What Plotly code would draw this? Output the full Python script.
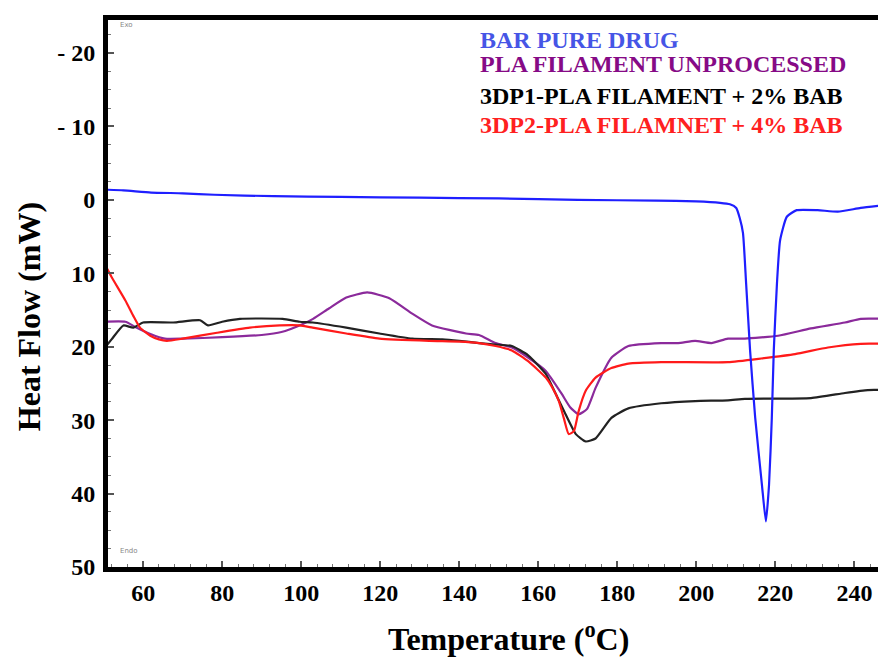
import plotly.graph_objects as go

# ---- data ----
bar_T = [50, 55, 62, 70, 78, 93, 110, 130, 150, 170, 190, 200, 206, 208.5, 210.1, 211, 211.8, 212.6,
         213.6, 214.9, 216.6, 217.6, 218.4, 219.1, 219.6, 220.4, 221.2, 222.9, 225.4, 230.7, 235.8,
         241.6, 248]
bar_hf = [-1.4, -1.3, -1.0, -0.9, -0.7, -0.5, -0.4, -0.3, -0.2, 0.0, 0.1, 0.2, 0.4, 0.6, 1.1, 2.5, 4.5,
          11.4, 20.5, 29.7, 38.8, 43.8, 38.8, 29.7, 20.5, 11.4, 5.5, 2.3, 1.4, 1.4, 1.6, 1.1, 0.7]

pla_T = [50, 55.5, 58, 62, 65.5, 70, 80, 90, 95, 100, 103, 107, 111.4, 116.7, 122.3, 128.1, 133.1,
         141.7, 145, 149.2, 153.3, 157.5, 161.9, 165.9, 168, 170.2, 172.3, 174.5, 178.5, 182.8, 191.1,
         195.4, 199.7, 203.8, 208, 212.3, 220.7, 229, 237.6, 241.6, 248]
pla_hf = [16.6, 16.6, 17.3, 18.3, 18.9, 18.9, 18.7, 18.4, 18.0, 17.0, 16.2, 14.8, 13.3, 12.6, 13.4,
          15.5, 17.1, 18.2, 18.4, 19.5, 20.1, 21.5, 23.3, 26.4, 28.2, 29.2, 28.5, 25.6, 21.5, 19.9,
          19.5, 19.5, 19.2, 19.5, 18.9, 18.9, 18.5, 17.5, 16.7, 16.2, 16.2]

p1_T = [50, 52, 55, 57.5, 60, 67.6, 74.4, 76.4, 80, 84.5, 95.3, 99.6, 102.9, 111.4, 119.8, 128.1,
        135.7, 140, 145, 149.2, 153.3, 157.5, 161.9, 164.4, 166.9, 169.5, 172, 174.5, 178.5, 182.8,
        191.1, 199.7, 208, 212.3, 229, 237.6, 243.4, 248]
p1_hf = [20.3, 19.0, 17.1, 17.4, 16.7, 16.7, 16.4, 17.1, 16.6, 16.2, 16.2, 16.6, 16.7, 17.4, 18.2,
         18.9, 19.0, 19.2, 19.5, 19.7, 19.9, 21.2, 23.7, 26.4, 29.2, 31.9, 32.9, 32.5, 29.7, 28.4,
         27.7, 27.4, 27.3, 27.1, 27.0, 26.3, 25.9, 25.9]

p2_T = [50, 52, 55.5, 57.5, 59.2, 61.8, 64, 66, 70, 78.7, 87, 94.6, 99.6, 102.9, 111.4, 119.8, 132.4,
        140, 145, 149.2, 153.3, 157.5, 161.9, 163.5, 165.2, 166.5, 167.7, 169, 170.2, 172, 174.5,
        178.5, 182.8, 191.1, 208, 216.4, 225, 233.3, 241.6, 248]
p2_hf = [8.5, 10.5, 13.7, 15.8, 17.4, 18.5, 19.0, 19.2, 18.9, 18.1, 17.4, 17.1, 17.1, 17.4, 18.2,
         18.9, 19.2, 19.3, 19.5, 19.9, 20.5, 22.0, 24.2, 25.5, 27.4, 29.8, 31.9, 31.5, 28.8, 26.0,
         24.2, 22.9, 22.3, 22.1, 22.1, 21.6, 21.0, 20.1, 19.6, 19.6]

y_tickvals = [-20, -10, 0, 10, 20, 30, 40, 50]
y_ticktext = ["- 20", "- 10", "0", "10", "20", "30", "40", "50"]
x_tickvals = [60, 80, 100, 120, 140, 160, 180, 200, 220, 240]

series_names = ["BAR PURE DRUG", "PLA FILAMENT UNPROCESSED",
                "3DP1-PLA FILAMENT + 2% BAB", "3DP2-PLA FILAMNET + 4% BAB"]
line_colors = ["#1f1fff", "#8b2a9b", "#222222", "#ff1a1a"]
text_colors = ["#4655e6", "#860a86", "#000000", "#ff2020"]

FONT = "Liberation Serif, Times New Roman, serif"

fig = go.Figure()
order = [(pla_T, pla_hf, 1), (p1_T, p1_hf, 2), (p2_T, p2_hf, 3), (bar_T, bar_hf, 0)]
for xs, ys, i in order:
    fig.add_trace(go.Scatter(x=xs, y=ys, mode="lines", name=series_names[i],
                             line=dict(color=line_colors[i], width=2.2, shape="spline", smoothing=0.5),
                             showlegend=False))

# legend as coloured text
legend_y = [0.9635, 0.919, 0.861, 0.808]
for i, name in enumerate(series_names):
    fig.add_annotation(text="<b>" + name + "</b>", xref="paper", yref="paper",
                       x=0.4756, y=legend_y[i], xanchor="left", yanchor="middle", showarrow=False,
                       font=dict(family=FONT, size=24, color=text_colors[i]))

# Exo / Endo markers
fig.add_annotation(text="Exo", xref="paper", yref="paper", x=0.013, y=0.99, xanchor="left",
                   yanchor="middle", showarrow=False, font=dict(family="DejaVu Sans", size=7, color="#888"))
fig.add_annotation(text="Endo", xref="paper", yref="paper", x=0.013, y=0.03, xanchor="left",
                   yanchor="middle", showarrow=False, font=dict(family="DejaVu Sans", size=7, color="#888"))

# axis titles
fig.add_annotation(text="<b>Temperature (<sup>o</sup>C)</b>", xref="paper", yref="paper",
                   x=0.5154, y=-0.1286, xanchor="center", yanchor="middle", showarrow=False,
                   font=dict(family=FONT, size=32, color="black"))
fig.add_annotation(text="<b>Heat Flow (mW)</b>", xref="paper", yref="paper",
                   x=-0.1015, y=0.4567, xanchor="center", yanchor="middle", showarrow=False,
                   textangle=-90, font=dict(family=FONT, size=32, color="black"))

fig.update_layout(
    width=878, height=649,
    margin=dict(l=100, r=0, t=12, b=90),
    paper_bgcolor="white", plot_bgcolor="white",
    xaxis=dict(range=[51.1, 248], tickvals=x_tickvals, showgrid=False, zeroline=False,
               showline=True, linecolor="black", linewidth=5, mirror=True,
               ticks="inside", ticklen=6, tickwidth=1.5, tickcolor="#555",
               minor=dict(dtick=4, tick0=0, ticks="inside", ticklen=3, tickcolor="#777", tickwidth=1),
               tickfont=dict(family=FONT, size=24, color="black", weight="bold")),
    yaxis=dict(range=[50, -24.5], tickvals=y_tickvals, ticktext=y_ticktext, showgrid=False,
               zeroline=False, showline=True, linecolor="black", linewidth=5, mirror=False,
               ticks="inside", ticklen=6, tickwidth=1.5, tickcolor="#555", ticklabelstandoff=3,
               minor=dict(dtick=2.5, tick0=0, ticks="inside", ticklen=3, tickcolor="#777", tickwidth=1),
               tickfont=dict(family=FONT, size=24, color="black", weight="bold")),
)

fig.write_html("out.html")
